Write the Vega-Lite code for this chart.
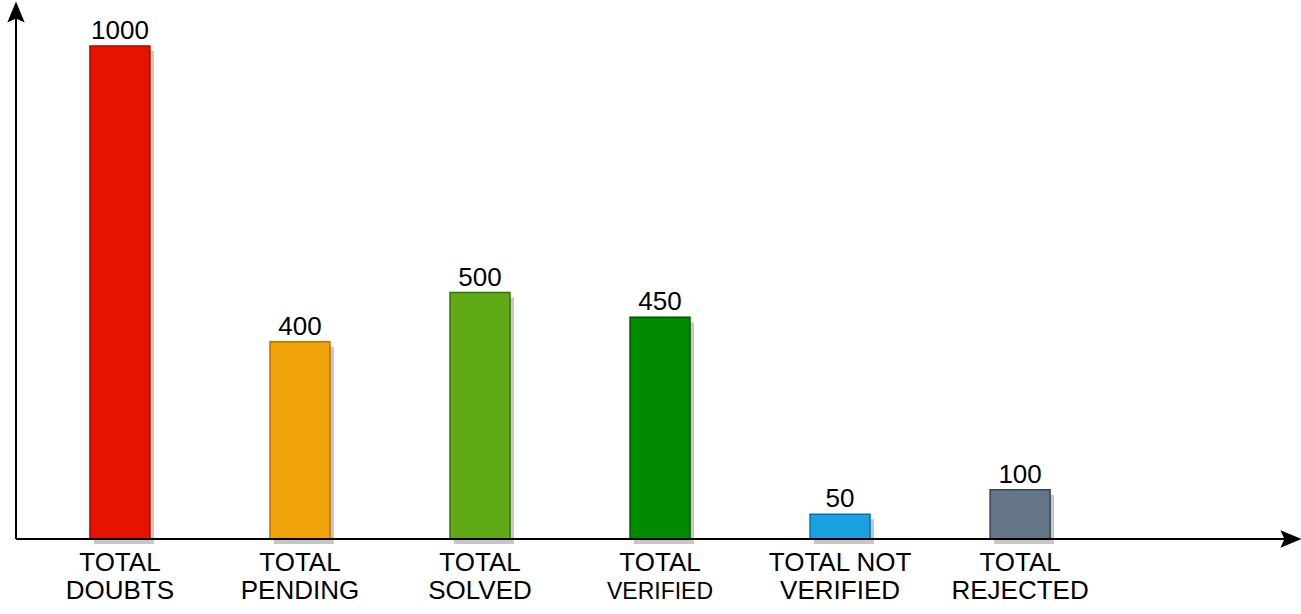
{
  "$schema": "https://vega.github.io/schema/vega-lite/v6.json",
  "width": 1275,
  "height": 527,
  "autosize": {"type": "none"},
  "padding": {"left": 16, "top": 12, "right": 10, "bottom": 75},
  "background": "white",
  "config": {"view": {"stroke": null}, "text": {"font": "Liberation Sans"}},
  "data": {
    "values": [
      {"cat": "TOTAL DOUBTS", "line1": "TOTAL", "line2": "DOUBTS", "value": 1000},
      {"cat": "TOTAL PENDING", "line1": "TOTAL", "line2": "PENDING", "value": 400},
      {"cat": "TOTAL SOLVED", "line1": "TOTAL", "line2": "SOLVED", "value": 500},
      {"cat": "TOTAL VERIFIED", "line1": "TOTAL", "line2": "VERIFIED", "value": 450},
      {"cat": "TOTAL NOT VERIFIED", "line1": "TOTAL NOT", "line2": "VERIFIED", "value": 50},
      {"cat": "TOTAL REJECTED", "line1": "TOTAL", "line2": "REJECTED", "value": 100}
    ]
  },
  "encoding": {
    "x": {
      "field": "cat",
      "type": "nominal",
      "sort": null,
      "axis": null,
      "scale": {"range": [14, 1094], "paddingInner": 0.667, "paddingOuter": 0.333}
    }
  },
  "layer": [
    {
      "mark": {"type": "bar", "color": "#c6c6c6", "xOffset": 4, "yOffset": 5},
      "encoding": {
        "y": {"field": "value", "type": "quantitative", "axis": null, "scale": {"domain": [0, 1069], "nice": false}}
      }
    },
    {
      "mark": {"type": "bar", "strokeWidth": 1.5},
      "encoding": {
        "y": {"field": "value", "type": "quantitative"},
        "fill": {
          "field": "cat", "type": "nominal", "legend": null,
          "scale": {
            "domain": ["TOTAL DOUBTS", "TOTAL PENDING", "TOTAL SOLVED", "TOTAL VERIFIED", "TOTAL NOT VERIFIED", "TOTAL REJECTED"],
            "range": ["#e51400", "#f0a30a", "#60a917", "#008a00", "#1ba1e2", "#647687"]
          }
        },
        "stroke": {
          "field": "cat", "type": "nominal", "legend": null,
          "scale": {
            "domain": ["TOTAL DOUBTS", "TOTAL PENDING", "TOTAL SOLVED", "TOTAL VERIFIED", "TOTAL NOT VERIFIED", "TOTAL REJECTED"],
            "range": ["#b20000", "#bd7000", "#2d7600", "#005700", "#006eaf", "#314354"]
          }
        }
      }
    },
    {
      "mark": {"type": "text", "fontSize": 26, "baseline": "alphabetic", "dy": -7, "color": "#000000"},
      "encoding": {
        "y": {"field": "value", "type": "quantitative"},
        "text": {"field": "value", "type": "quantitative", "format": "d"}
      }
    },
    {
      "mark": {"type": "text", "fontSize": 26, "baseline": "alphabetic", "dy": 32, "color": "#000000"},
      "encoding": {
        "y": {"datum": 0, "type": "quantitative"},
        "text": {"field": "line1"}
      }
    },
    {
      "mark": {"type": "text", "baseline": "alphabetic", "dy": 60, "color": "#000000"},
      "encoding": {
        "y": {"datum": 0, "type": "quantitative"},
        "text": {"field": "line2"},
        "size": {"condition": {"test": "datum.cat === 'TOTAL VERIFIED'", "value": 23}, "value": 26}
      }
    },
    {
      "data": {"values": [{"axis": "x"}]},
      "mark": {"type": "rule", "color": "#000000", "strokeWidth": 2},
      "encoding": {
        "x": {"value": 0},
        "x2": {"value": "width"},
        "y": {"value": "height"}
      }
    },
    {
      "data": {"values": [{"axis": "y"}]},
      "mark": {"type": "rule", "color": "#000000", "strokeWidth": 2},
      "encoding": {
        "x": {"value": 0},
        "y": {"value": 0},
        "y2": {"value": "height"}
      }
    },
    {
      "data": {"values": [{"axis": "x"}]},
      "mark": {"type": "point", "filled": true, "opacity": 1, "color": "#000000", "size": 450, "shape": "M1,0 L-1,-0.82 L-0.62,0 L-1,0.82 Z"},
      "encoding": {
        "x": {"value": "width"},
        "y": {"value": "height"}
      }
    },
    {
      "data": {"values": [{"axis": "y"}]},
      "mark": {"type": "point", "filled": true, "opacity": 1, "color": "#000000", "size": 450, "shape": "M0,-1 L-0.82,1 L0,0.62 L0.82,1 Z"},
      "encoding": {
        "x": {"value": 0},
        "y": {"value": 0}
      }
    }
  ]
}
